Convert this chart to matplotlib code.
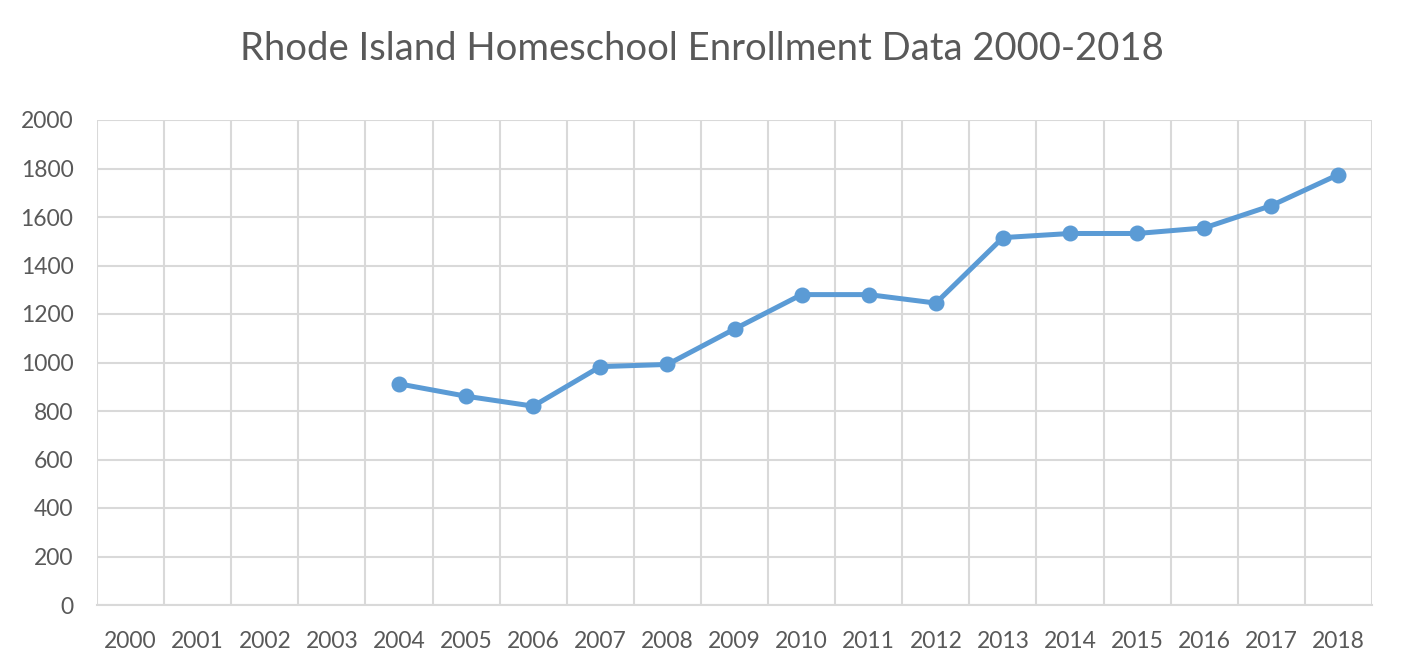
import matplotlib
matplotlib.use("Agg")
import matplotlib.pyplot as plt
import numpy as np

plt.rcParams['font.family'] = ['Lato', 'DejaVu Sans']

years = [str(y) for y in range(2000, 2019)]
enroll_years = list(range(2004, 2019))
enrollment = [912, 861, 820, 983, 992, 1138, 1280, 1280, 1245,
              1515, 1532, 1532, 1555, 1647, 1775]
yticks = list(range(0, 2001, 200))

TEXT = '#595959'
GRID = '#d9d9d9'
LINE = '#5b9bd5'

fig = plt.figure(figsize=(14.04, 6.70), dpi=100)
ax = fig.add_axes([97/1404, 65/670, (1372-97)/1404, (605-120)/670])

xpos = [years.index(str(y)) for y in enroll_years]
ax.plot(xpos, enrollment, color=LINE, lw=3.6, marker='o', markersize=10.5,
        solid_capstyle='round', zorder=3)

ax.set_xlim(-0.5, len(years) - 0.5)
ax.set_ylim(0, 2000)
ax.set_yticks(yticks)
ax.set_yticklabels([str(v) for v in yticks])
ax.set_xticks(range(len(years)))
ax.set_xticklabels(years)
ax.set_xticks(np.arange(-0.5, len(years), 1.0), minor=True)

ax.grid(True, which='major', axis='y', color=GRID, lw=1.5)
ax.grid(True, which='minor', axis='x', color=GRID, lw=1.5)
ax.grid(False, which='major', axis='x')
for s in ['top', 'right', 'left']:
    ax.spines[s].set_visible(False)
ax.spines['bottom'].set_color(GRID)
ax.spines['bottom'].set_linewidth(1.5)
ax.set_axisbelow(True)

ax.tick_params(axis='both', which='both', length=0, colors=TEXT, labelsize=16.5)
ax.tick_params(axis='y', pad=17)
ax.tick_params(axis='x', pad=19)

fig.text(0.5, 1 - 49/670, 'Rhode Island Homeschool Enrollment Data 2000-2018',
         ha='center', va='center', fontsize=27.5, color=TEXT)

fig.savefig('out.png', dpi=100, facecolor='white')
